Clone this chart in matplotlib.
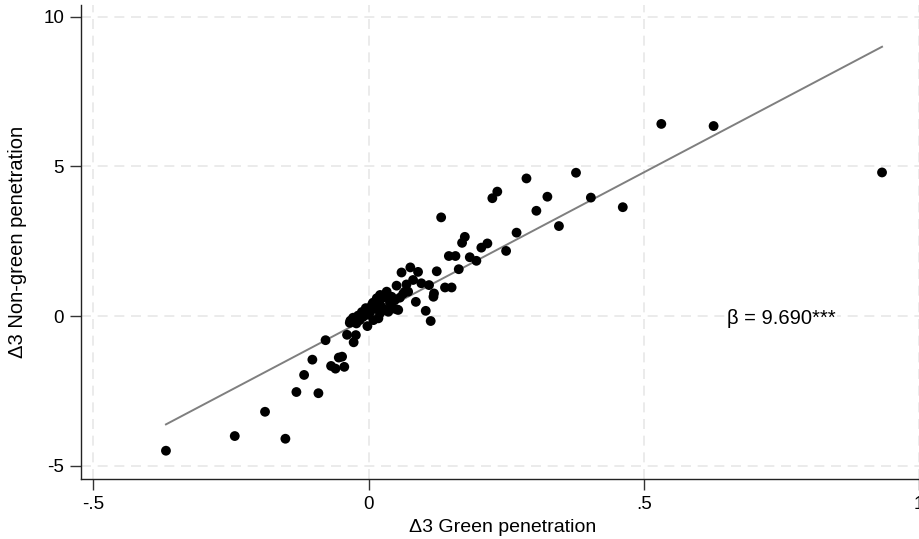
import matplotlib
matplotlib.use("Agg")
import matplotlib.pyplot as plt
import numpy as np

plt.rcParams['font.family'] = ['Liberation Sans', 'DejaVu Sans']

green = [-0.368, -0.243, -0.188, -0.151, -0.131, -0.091, -0.117, -0.102, -0.078,
         -0.068, -0.060, -0.054, -0.048, -0.044, -0.039, -0.027, -0.023, -0.033,
         -0.034, -0.002, -0.022, -0.016, -0.010, -0.012, -0.005, 0.003, 0.006,
         0.009, 0.012, 0.015, 0.018, 0.021, 0.021, 0.021, 0.027, 0.030, 0.033,
         0.036, 0.039, 0.045, 0.048, 0.051, 0.054, 0.051, 0.060, 0.066, 0.069,
         0.072, 0.076, 0.081, 0.086, 0.090, 0.096, 0.104, 0.110, 0.113, 0.118,
         0.119, 0.124, 0.132, 0.139, 0.146, 0.151, 0.158, 0.164, 0.170, 0.175,
         0.184, 0.196, 0.205, 0.216, 0.225, 0.234, 0.250, 0.269, 0.287, 0.305,
         0.325, 0.346, 0.377, 0.404, 0.462, 0.532, 0.627, 0.933,
         0.000, 0.008, 0.042, 0.057, -0.028, 0.024, 0.063, -0.019]
nongreen = [-4.49, -4.00, -3.19, -4.09, -2.53, -2.57, -1.96, -1.45, -0.80,
            -1.66, -1.75, -1.38, -1.35, -1.69, -0.62, -0.87, -0.63, -0.15,
            -0.22, -0.33, -0.24, -0.13, -0.02, 0.14, 0.27, 0.15, 0.37,
            -0.13, 0.26, 0.60, -0.07, 0.37, 0.10, 0.71, 0.62, 0.21, 0.82,
            0.15, 0.45, 0.26, 0.54, 0.23, 0.21, 1.02, 1.46, 0.82, 1.06,
            0.82, 1.63, 1.21, 0.48, 1.48, 1.10, 0.18, 1.04, -0.16, 0.65,
            0.76, 1.50, 3.30, 0.96, 2.01, 0.96, 2.01, 1.57, 2.45, 2.65,
            1.97, 1.85, 2.29, 2.43, 3.94, 4.16, 2.18, 2.79, 4.60, 3.52,
            3.99, 3.01, 4.79, 3.96, 3.64, 6.42, 6.35, 4.80,
            0.05, 0.45, 0.65, 0.62, -0.05, 0.30, 0.75, 0.02]

beta = 9.690
intercept = -0.045
beta_label = "β = 9.690***"

xticks = [-0.5, 0, 0.5, 1]
xticklabels = ["-.5", "0", ".5", "1"]
yticks = [-5, 0, 5, 10]
yticklabels = ["-5", "0", "5", "10"]

fig = plt.figure(figsize=(9.2, 5.39), dpi=100)
ax = fig.add_axes([80.7/920, 1 - 479/539, 1 - 80.7/920, (479 - 5)/539])

ax.set_xlim(-0.5229, 1.002)
ax.set_ylim(-5.434, 10.39)

ax.grid(True, color='#e8e8e8', linestyle=(0, (6, 4)), linewidth=1.2, zorder=0)
ax.set_axisbelow(True)

ax.scatter(green, nongreen, s=50, color='black', edgecolors='none', zorder=3)

xl = np.array([min(green), max(green)])
ax.plot(xl, intercept + beta * xl, color='#7f7f7f', linewidth=1.4, zorder=2)

ax.text(0.651, -0.06, beta_label, fontsize=14.5, ha='left', va='center', zorder=4,
        bbox=dict(facecolor='white', edgecolor='none', pad=1))

ax.set_xticks(xticks)
ax.set_xticklabels(xticklabels)
ax.set_yticks(yticks)
ax.set_yticklabels(yticklabels)
ax.tick_params(axis='both', direction='out', length=8, width=1, color='#333333',
               labelsize=13.5, pad=4)

for s in ['top', 'right']:
    ax.spines[s].set_visible(False)
for s in ['left', 'bottom']:
    ax.spines[s].set_linewidth(1)
    ax.spines[s].set_color('#222222')

fig.text(503/920, 1 - 528/539, "Δ3 Green penetration", fontsize=14, ha='center', va='center')
fig.text(18/920, 1 - 242/539, "Δ3 Non-green penetration", fontsize=14.5, ha='center', va='center', rotation=90)

fig.savefig("out.png", dpi=100, facecolor='white')
